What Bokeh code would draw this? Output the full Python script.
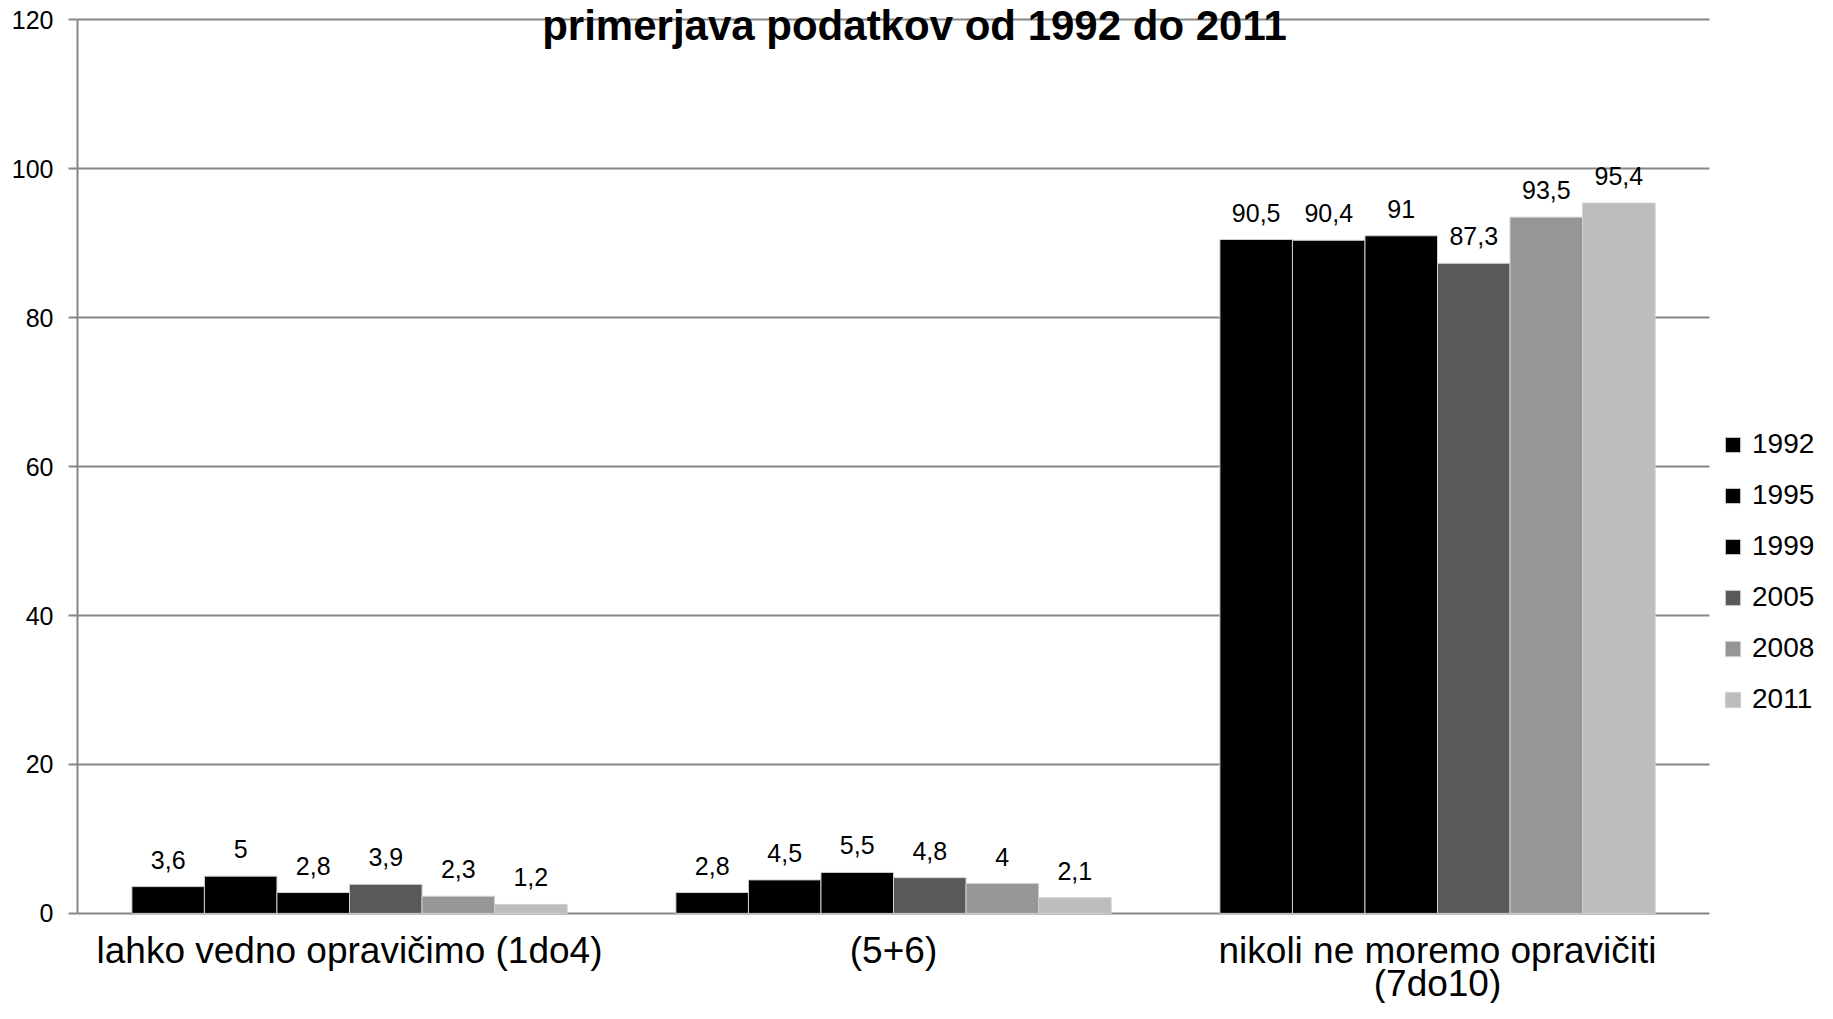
from bokeh.plotting import figure
from bokeh.models import (ColumnDataSource, Range1d, LabelSet, Label,
                          Legend, LegendItem, FixedTicker)
from bokeh.transform import dodge
from bokeh.core.properties import value
from bokeh.embed import file_html
from bokeh.resources import INLINE

# ---- data ----
categories = ["lahko vedno opravičimo (1do4)", "(5+6)", "nikoli ne moremo opravičiti (7do10)"]
category_text = ["lahko vedno opravičimo (1do4)", "(5+6)", "nikoli ne moremo opravičiti\n(7do10)"]
years = ["1992", "1995", "1999", "2005", "2008", "2011"]
v1992 = [3.6, 2.8, 90.5]
v1995 = [5.0, 4.5, 90.4]
v1999 = [2.8, 5.5, 91.0]
v2005 = [3.9, 4.8, 87.3]
v2008 = [2.3, 4.0, 93.5]
v2011 = [1.2, 2.1, 95.4]
y_ticks = [0, 20, 40, 60, 80, 100, 120]
title_text = "primerjava podatkov od 1992 do 2011"

series = [v1992, v1995, v1999, v2005, v2008, v2011]
colors = ["#000000", "#000000", "#000000", "#595959", "#969696", "#bdbdbd"]

FONT = "Liberation Sans"
GRID = "#868686"

def fmt(v):
    return f"{v:g}".replace(".", ",")

ncat = len(categories)
data = {"cat": categories, "xc": [i + 0.5 for i in range(ncat)]}
for y, vals in zip(years, series):
    data["y" + y] = vals
    data["t" + y] = [fmt(v) for v in vals]
src = ColumnDataSource(data)

# category labels, one row per text line (line 2 sits lower)
LINE1_DY, LINE_STEP = -50, -33
lab = {"x": [], "y": [], "text": [], "dy": []}
for i, t in enumerate(category_text):
    for j, line in enumerate(t.split("\n")):
        lab["x"].append(i + 0.5)
        lab["y"].append(0)
        lab["text"].append(line)
        lab["dy"].append(LINE1_DY + j * LINE_STEP)
lab_src = ColumnDataSource(lab)

# categories sit at 0.5, 1.5, 2.5; the frame runs on to the right edge so the
# legend (an annotation) is not clipped; grid lines stop at the last category.
p = figure(width=1817, height=1003, output_backend="svg", toolbar_location=None,
           x_range=Range1d(0, ncat + 0.1985), y_range=Range1d(-12.1, 122.6),
           min_border_left=77, min_border_right=0, min_border_top=0, min_border_bottom=0)
p.outline_line_color = None
p.background_fill_color = "white"

# axes
p.yaxis.ticker = FixedTicker(ticks=y_ticks)
p.yaxis.bounds = (0, 120)
p.yaxis.axis_line_color = GRID
p.yaxis.axis_line_width = 2
p.yaxis.major_tick_line_color = GRID
p.yaxis.major_tick_line_width = 2
p.yaxis.major_tick_out = 9
p.yaxis.major_tick_in = 0
p.yaxis.minor_tick_line_color = None
p.yaxis.major_label_text_font = FONT
p.yaxis.major_label_text_font_size = "25px"
p.yaxis.major_label_text_color = "black"
p.yaxis.major_label_standoff = 15

p.xaxis.visible = False

p.xgrid.grid_line_color = None
p.ygrid.grid_line_color = GRID
p.ygrid.grid_line_width = 2
p.ygrid.ticker = FixedTicker(ticks=y_ticks)
p.ygrid.bounds = (0, 120)
p.ygrid.cross_bounds = (0, ncat)

n = len(years)
w = 0.8 / n
items = []
for i, (y, c) in enumerate(zip(years, colors)):
    off = -0.4 + w / 2 + i * w
    r = p.vbar(x=dodge("xc", off), top="y" + y, width=w, source=src,
               fill_color=c, line_color="#cfcfcf", line_width=1)
    items.append(LegendItem(label=y, renderers=[r]))
    lbl = LabelSet(x=dodge("xc", off), y="y" + y, text="t" + y, source=src,
                   text_align="center", text_baseline="alphabetic", y_offset=18,
                   text_font=value(FONT), text_font_size="25px", text_color="black")
    p.add_layout(lbl)

cat_lbl = LabelSet(x="x", y="y", text="text", y_offset="dy", source=lab_src,
                   text_align="center", text_baseline="alphabetic",
                   text_font=value(FONT), text_font_size="37px", text_color="black")
p.add_layout(cat_lbl)

# title, centred over the middle category
p.add_layout(Label(x=ncat / 2, y=120, x_offset=21, y_offset=-6, text=title_text,
                   text_align="center", text_baseline="alphabetic",
                   text_font=FONT, text_font_style="bold", text_font_size="42px",
                   text_color="black"))

legend = Legend(items=items, location=(1646, 288), orientation="vertical",
                glyph_width=19, glyph_height=19, label_standoff=10,
                label_text_font=FONT, label_text_font_size="28px", label_text_color="black",
                label_height=32, spacing=19, padding=0, margin=0,
                border_line_alpha=0, background_fill_alpha=0)
p.add_layout(legend)

open("out.html", "w").write(file_html(p, INLINE))
